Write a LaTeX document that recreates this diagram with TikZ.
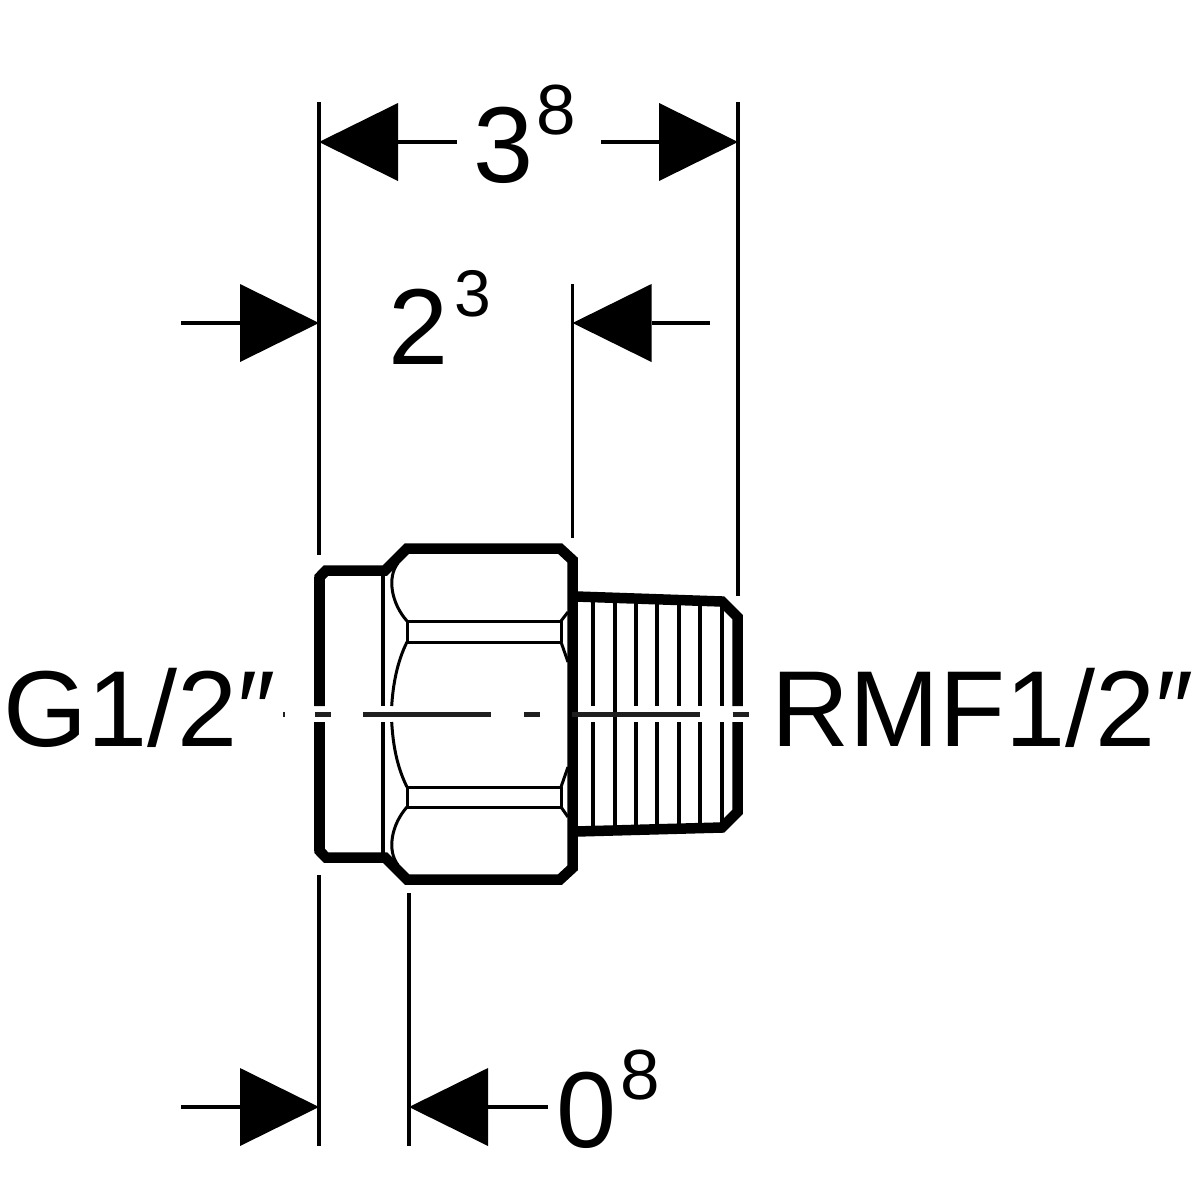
\documentclass[tikz,border=0pt]{standalone}
\usepackage{fontspec}
\setmainfont{Liberation Sans}
\usetikzlibrary{arrows.meta}
\tikzset{
  thick wall/.style={line width=10.5pt,line join=miter,line cap=butt},
  left wall/.style={line width=11.5pt,line cap=butt},
  thin part/.style={line width=3.8pt,line cap=butt},
  hair/.style={line width=3pt,line cap=butt},
  dimline/.style={line width=3.6pt},
  dimarrow/.style={line width=3.6pt,-{Triangle[length=79pt,width=78pt,line width=0pt]}},
  axis/.style={line width=4.8pt,color=black!88},
  big/.style={inner sep=0pt,anchor=base west,font=\fontsize{108}{108}\selectfont},
  small/.style={inner sep=0pt,anchor=base west,font=\fontsize{71}{71}\selectfont},
  smaller/.style={inner sep=0pt,anchor=base west,font=\fontsize{66}{66}\selectfont}
}
\begin{document}
\begin{tikzpicture}[x=1pt,y=-1pt]
\useasboundingbox (0,0) rectangle (1200,1200);
% body outline
\draw[thick wall] (319.7,706) -- (319.7,577) -- (326,570.5) -- (385,570.5) -- (407,548.5) -- (560,548.5) -- (572.5,560) -- (572.5,868) -- (560,879.5) -- (407,879.5) -- (385,857.5) -- (326,857.5) -- (319.7,851) -- (319.7,722);
\draw[left wall] (319.7,706) -- (319.7,577) (319.7,722) -- (319.7,851);
% thread outline
\draw[thick wall] (737.5,706) -- (737.5,617) -- (722,601.5) -- (576,596.5);
\draw[thick wall] (737.5,722) -- (737.5,812) -- (722,827.5) -- (576,831.5);
% thin verticals
\draw[thin part] (382.7,574) -- (382.7,706) (382.7,722) -- (382.7,855);
% hex curves
\draw[hair] (398,563) .. controls (387,577) and (391,603) .. (407,621);
\draw[hair] (407,642) .. controls (397,662) and (393,685) .. (391.7,706);
\draw[hair] (391.7,722) .. controls (393,745) and (397,767) .. (407,787);
\draw[hair] (407,807) .. controls (391,825) and (387,851) .. (398,865);
\draw[hair] (407,621) -- (407,642) (407,787) -- (407,807);
\draw[hair] (407,621) -- (561,621) (407,642) -- (561,642);
\draw[hair] (407,787) -- (561,787) (407,807) -- (561,807);
\draw[hair] (561,621) -- (561,642) (561,787) -- (561,807);
\draw[hair] (561,621) -- (568,612) (561,642) -- (568,662);
\draw[hair] (561,787) -- (568,767) (561,807) -- (568,817);
% thread lines
\foreach \tx/\ty/\by in {593.3/601/829,636/601/829,657.3/601/829,678.7/601/828,700/601/828,721.7/606/823}{
  \draw[thin part] (\tx,\ty) -- (\tx,706) (\tx,722) -- (\tx,\by);
}
\draw[thin part] (614.7,600) -- (614.7,829);
% centre line
\draw[axis] (283,714.5) -- (285,714.5) (315,714.5) -- (331,714.5) (363,714.5) -- (491,714.5) (524,714.5) -- (540,714.5) (572,714.5) -- (700,714.5) (732.7,714.5) -- (748.7,714.5);
% witness lines
\coordinate (w1a) at (319,102); \coordinate (w1b) at (319,555);
\coordinate (w1c) at (319,875); \coordinate (w1d) at (319,1146);
\coordinate (w2a) at (738,102); \coordinate (w2b) at (738,596);
\coordinate (w3a) at (572.5,284); \coordinate (w3b) at (572.5,538);
\coordinate (w4a) at (409,893); \coordinate (w4b) at (409,1146);
\draw[dimline] (w1a) -- (w1b) (w1c) -- (w1d) (w2a) -- (w2b) (w3a) -- (w3b) (w4a) -- (w4b);
% dimension arrows
\coordinate (a1s) at (457,142); \coordinate (a1t) at (319,142);
\coordinate (a2s) at (601,142); \coordinate (a2t) at (738,142);
\coordinate (a3s) at (181,323); \coordinate (a3t) at (319,323);
\coordinate (a4s) at (710,323); \coordinate (a4t) at (572.5,323);
\coordinate (a5s) at (181,1107); \coordinate (a5t) at (319,1107);
\coordinate (a6s) at (548,1107); \coordinate (a6t) at (409,1107);
\draw[dimarrow] (a1s) -- (a1t);
\draw[dimarrow] (a2s) -- (a2t);
\draw[dimarrow] (a3s) -- (a3t);
\draw[dimarrow] (a4s) -- (a4t);
\draw[dimarrow] (a5s) -- (a5t);
\draw[dimarrow] (a6s) -- (a6t);
% labels
\node[big] (l38) at (473,182) {3};
\node[small] (l38s) at (536,134) {8};
\node[big] (l23) at (388,364) {2};
\node[smaller] (l23s) at (454,316) {3};
\node[big] (l08) at (556,1147) {0};
\node[small] (l08s) at (620,1099) {8};
\node[big] (lg) at (3,746) {G1/2″};
\node[big] (lr) at (771,746) {RMF1/2″};
\end{tikzpicture}
\end{document}
